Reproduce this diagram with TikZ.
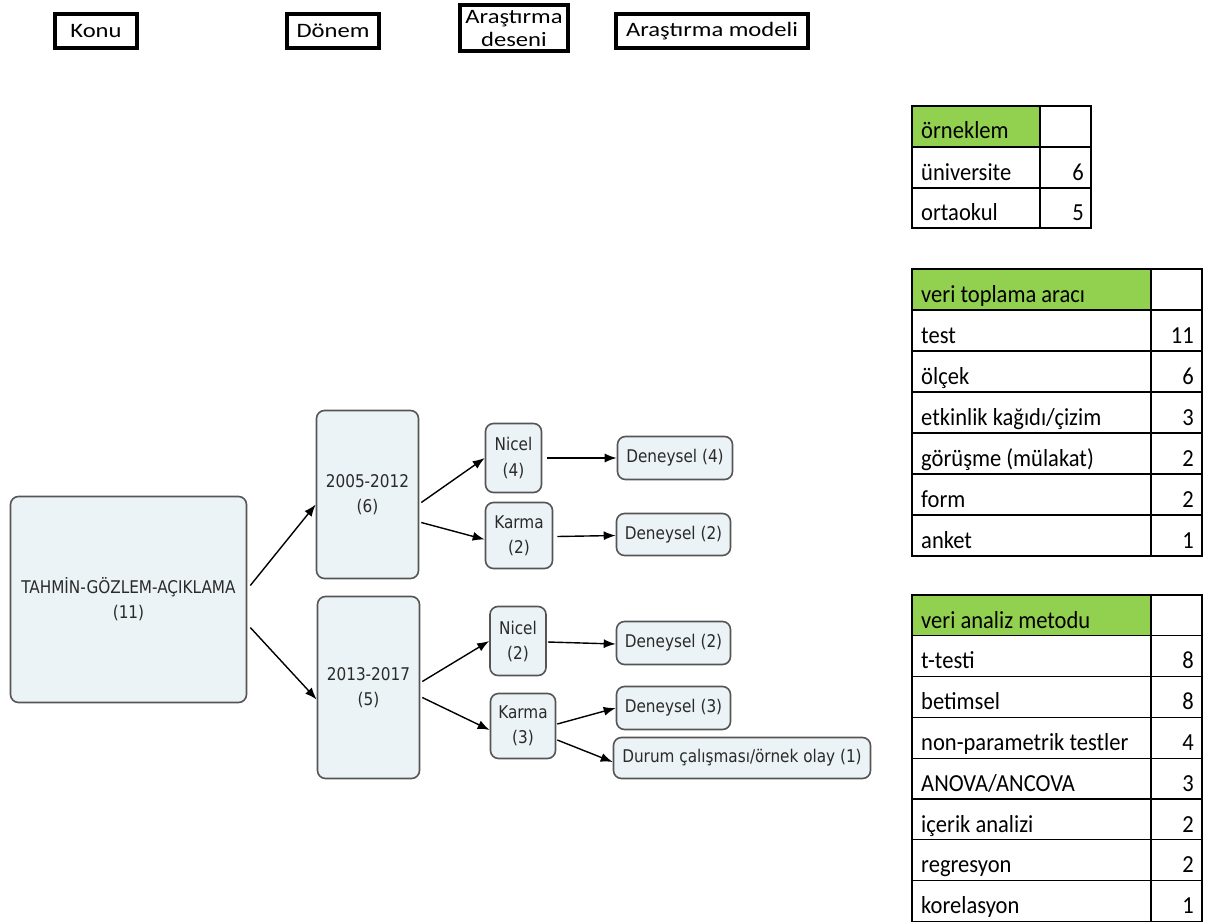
\documentclass[tikz,border=0pt]{standalone}
\usepackage{fontspec}
\setmainfont{Carlito}
\newfontfamily\vfont[FakeStretch=0.97]{DejaVu Sans Condensed}
\newfontfamily\tfont[FakeStretch=0.92]{Carlito}
\newfontfamily\hfont[FakeStretch=1.2]{Carlito}
\usetikzlibrary{arrows.meta}
\definecolor{nodefill}{HTML}{EBF3F6}
\definecolor{nodeline}{HTML}{555555}
\definecolor{hdrgreen}{HTML}{92D050}
\definecolor{ntext}{HTML}{2A2A2A}
\begin{document}
\begin{tikzpicture}[x=1pt,y=-1pt,
 cbox/.style={draw=nodeline, fill=nodefill, rounded corners=8pt, line width=1.6pt, inner sep=0pt,
   font=\vfont\fontsize{17.5}{25}\selectfont, align=center, text=ntext},
 hbox/.style={draw=black, line width=3.5pt, inner sep=0pt, font=\hfont\fontsize{20.5}{24}\selectfont, align=center},
 conn/.style={-{Latex[length=12pt,width=9pt]}, line width=1.4pt},
 cell/.style={draw=black, line width=1.3pt},
 ctext/.style={font=\tfont\fontsize{24.5}{26}\selectfont, anchor=base west, inner sep=0pt},
 cnum/.style={font=\tfont\fontsize{24.5}{26}\selectfont, anchor=base east, inner sep=0pt}]
\useasboundingbox[fill=white] (0,0) rectangle (1214,923);

% header boxes
\node[hbox, minimum width=82, minimum height=34] (hkonu) at (96,31) {Konu};
\node[hbox, minimum width=92, minimum height=34] (hdonem) at (333,31) {Dönem};
\node[hbox, minimum width=108, minimum height=46, font=\hfont\fontsize{20.5}{23}\selectfont] (hdesen) at (514,28) {Araştırma\\deseni};
\node[hbox, minimum width=192, minimum height=34] (hmodel) at (712,31) {Araştırma modeli};

% diagram nodes
\node[cbox, minimum width=236, minimum height=206] (main) at (128.5,599.5) {TAHMİN-GÖZLEM-AÇIKLAMA\\(11)};
\node[cbox, minimum width=102, minimum height=168] (p1) at (367.5,494.5) {2005-2012\\(6)};
\node[cbox, minimum width=102, minimum height=182] (p2) at (368.5,687.5) {2013-2017\\(5)};
\node[cbox, minimum width=56, minimum height=69] (n4) at (513.5,458) {Nicel\\(4)};
\node[cbox, minimum width=67, minimum height=66] (k2) at (519,535.5) {Karma\\(2)};
\node[cbox, minimum width=56, minimum height=69] (n2) at (518,641) {Nicel\\(2)};
\node[cbox, minimum width=65, minimum height=65] (k3) at (523,726) {Karma\\(3)};
\node[cbox, minimum width=115, minimum height=43] (d4) at (675,458) {Deneysel (4)};
\node[cbox, minimum width=114, minimum height=42] (d2a) at (673.5,534.5) {Deneysel (2)};
\node[cbox, minimum width=114, minimum height=43] (d2b) at (673.5,643) {Deneysel (2)};
\node[cbox, minimum width=114, minimum height=43] (d3) at (673.5,708) {Deneysel (3)};
\node[cbox, minimum width=257, minimum height=41] (dur) at (742,758) {Durum çalışması/örnek olay (1)};

% connectors
\draw[conn] ([xshift=3pt,yshift=14pt]main.east) -- ([yshift=-10pt]p1.west);
\draw[conn] ([xshift=3pt,yshift=-28pt]main.east) -- ([yshift=-12pt]p2.west);
\draw[conn] ([xshift=2pt,yshift=-8pt]p1.east) -- (n4.west);
\draw[conn] ([xshift=2pt,yshift=-28pt]p1.east) -- ([yshift=-4pt]k2.west);
\draw[conn] ([xshift=5pt]n4.east) -- (d4.west);
\draw[conn] ([xshift=4pt,yshift=-1pt]k2.east) -- ([yshift=-1pt]d2a.west);
\draw[conn] ([xshift=2pt,yshift=6pt]p2.east) -- (n2.west);
\draw[conn] ([xshift=2pt,yshift=-10pt]p2.east) -- ([yshift=-4pt]k3.west);
\draw[conn] ([xshift=1pt,yshift=-1pt]n2.east) -- ([yshift=-1pt]d2b.west);
\draw[conn] ([xshift=1pt,yshift=2pt]k3.east) -- (d3.west);
\draw[conn] ([xshift=1pt,yshift=-14pt]k3.east) -- ([yshift=-4pt]dur.west);

% table 1: örneklem
\fill[hdrgreen] (912,106) rectangle (1040,147);
\draw[cell] (912,106) rectangle (1091,228);
\draw[cell] (1040,106) -- (1040,228);
\foreach \y in {147,188} \draw[cell] (912,\y) -- (1091,\y);
\node[ctext] (t1h) at (921,139) {örneklem};
\node[ctext] (t1a) at (921,180) {üniversite};
\node[cnum] (t1an) at (1084,180) {6};
\node[ctext] (t1b) at (921,220) {ortaokul};
\node[cnum] (t1bn) at (1084,220) {5};

% table 2: veri toplama aracı
\fill[hdrgreen] (912,269) rectangle (1151,310);
\draw[cell] (912,269) rectangle (1202,556);
\draw[cell] (1151,269) -- (1151,556);
\foreach \y in {310,351,392,433,474,515} \draw[cell] (912,\y) -- (1202,\y);
\node[ctext] (t2h) at (921,302) {veri toplama aracı};
\node[ctext] (t2l1) at (921,343) {test};
\node[cnum] (t2n1) at (1194,343) {11};
\node[ctext] (t2l2) at (921,384) {ölçek};
\node[cnum] (t2n2) at (1194,384) {6};
\node[ctext] (t2l3) at (921,425) {etkinlik kağıdı/çizim};
\node[cnum] (t2n3) at (1194,425) {3};
\node[ctext] (t2l4) at (921,466) {görüşme (mülakat)};
\node[cnum] (t2n4) at (1194,466) {2};
\node[ctext] (t2l5) at (921,507) {form};
\node[cnum] (t2n5) at (1194,507) {2};
\node[ctext] (t2l6) at (921,548) {anket};
\node[cnum] (t2n6) at (1194,548) {1};

% table 3: veri analiz metodu
\fill[hdrgreen] (912,595) rectangle (1151,636);
\draw[cell] (912,595) rectangle (1202,921.4);
\draw[cell] (1151,595) -- (1151,921.4);
\foreach \k in {1,...,7} \draw[cell] (912,{595+40.8*\k}) -- (1202,{595+40.8*\k});
\node[ctext] (t3h) at (921,628) {veri analiz metodu};
\node[ctext] (t3l1) at (921,668.8) {t-testi};
\node[cnum] (t3n1) at (1194,668.8) {8};
\node[ctext] (t3l2) at (921,709.6) {betimsel};
\node[cnum] (t3n2) at (1194,709.6) {8};
\node[ctext] (t3l3) at (921,750.4) {non-parametrik testler};
\node[cnum] (t3n3) at (1194,750.4) {4};
\node[ctext] (t3l4) at (921,791.2) {ANOVA/ANCOVA};
\node[cnum] (t3n4) at (1194,791.2) {3};
\node[ctext] (t3l5) at (921,832) {içerik analizi};
\node[cnum] (t3n5) at (1194,832) {2};
\node[ctext] (t3l6) at (921,872.8) {regresyon};
\node[cnum] (t3n6) at (1194,872.8) {2};
\node[ctext] (t3l7) at (921,913.6) {korelasyon};
\node[cnum] (t3n7) at (1194,913.6) {1};
\end{tikzpicture}
\end{document}
